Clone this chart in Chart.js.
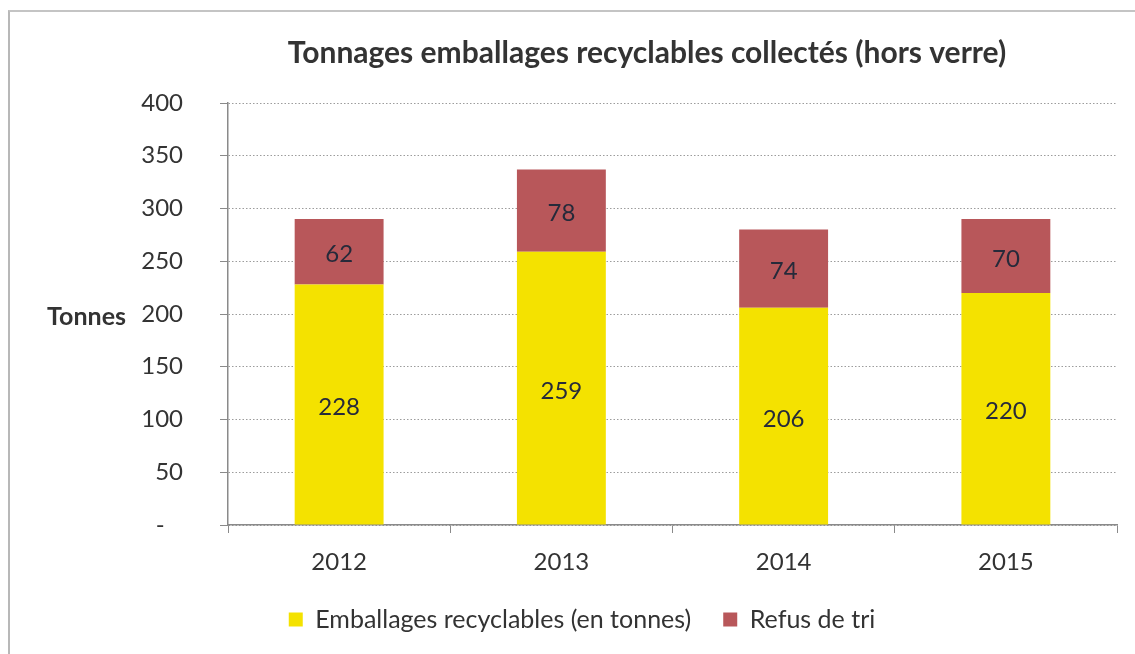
<!DOCTYPE html>
<html>
<head>
<meta charset="utf-8">
<script src="https://cdn.jsdelivr.net/npm/chart.js@4.4.1/dist/chart.umd.min.js"></script>
<style>
  html, body { margin: 0; padding: 0; background: #fff; }
  #wrap { position: relative; width: 1135px; height: 654px; }
  #frame { position: absolute; left: 8px; top: 10px; right: 0; bottom: 0;
           border-left: 2px solid #b8b8b8; border-top: 2px solid #c4c4c4; pointer-events: none; }
  canvas { position: absolute; left: 0; top: 0; }
</style>
</head>
<body>
<div id="wrap">
  <canvas id="c" width="1135" height="654"></canvas>
  <div id="frame"></div>
</div>
<script>
const categories = ['2012', '2013', '2014', '2015'];
const recyclables = [228, 259, 206, 220];
const refus = [62, 78, 74, 70];
const seriesNames = ['Emballages recyclables (en tonnes)', 'Refus de tri'];
const titleText = 'Tonnages emballages recyclables collectés (hors verre)';
const yAxisLabel = 'Tonnes';

const FONT = 'Lato, "Open Sans", sans-serif';

const labelPlugin = {
  id: 'segLabels',
  afterDatasetsDraw(chart) {
    const ctx = chart.ctx;
    ctx.save();
    ctx.font = '24px ' + FONT;
    ctx.fillStyle = '#262a3a';
    ctx.textAlign = 'center';
    ctx.textBaseline = 'middle';
    chart.data.datasets.forEach((ds, di) => {
      const meta = chart.getDatasetMeta(di);
      meta.data.forEach((el, i) => {
        const y = (el.y + el.base) / 2;
        ctx.fillText(String(ds.data[i]), el.x, y + 3);
      });
    });
    const ys = chart.scales.y;
    ctx.font = 'bold 25px ' + FONT;
    ctx.fillStyle = '#333';
    ctx.textAlign = 'right';
    ctx.fillText(yAxisLabel, 126, ys.getPixelForValue(200) + 3);
    ctx.font = 'bold 30px ' + FONT;
    ctx.textAlign = 'center';
    ctx.fillText(titleText, 647, 53);
    ctx.restore();
  }
};

new Chart(document.getElementById('c'), {
  type: 'bar',
  data: {
    labels: categories,
    datasets: [
      { label: seriesNames[0], data: recyclables, backgroundColor: '#f4e200', categoryPercentage: 1.0, barPercentage: 0.4 },
      { label: seriesNames[1], data: refus, backgroundColor: '#b8575a', categoryPercentage: 1.0, barPercentage: 0.4 }
    ]
  },
  options: {
    responsive: false,
    animation: false,
    layout: { padding: { left: 47, right: 18, top: 103, bottom: 12 } },
    plugins: {
      title: { display: false },
      legend: {
        position: 'bottom',
        labels: {
          color: '#333',
          font: { family: FONT, size: 25 },
          boxWidth: 14,
          boxHeight: 14,
          padding: 32
        }
      },
      tooltip: { enabled: false }
    },
    scales: {
      x: {
        stacked: true,
        afterFit(scale) { scale.height = 50; },
        grid: { drawOnChartArea: false, drawTicks: true, tickLength: 8, color: '#8a8a8a' },
        border: { color: '#8a8a8a', width: 1.5 },
        ticks: { color: '#333', font: { family: FONT, size: 24 }, padding: 15 }
      },
      y: {
        stacked: true,
        min: 0, max: 400,
        afterFit(scale) { scale.width = 181; },
        grid: { color: '#9c9c9c', tickBorderDash: [], tickColor: '#8a8a8a', tickLength: 8, lineWidth: 1 },
        border: { color: '#8a8a8a', width: 1.5, dash: [1.5, 2] },
        ticks: {
          stepSize: 50,
          color: '#333',
          font: { family: FONT, size: 24 },
          padding: 37,
          callback: (v) => v === 0 ? '-   ' : String(v)
        }
      }
    }
  },
  plugins: [labelPlugin]
});
</script>
</body>
</html>
